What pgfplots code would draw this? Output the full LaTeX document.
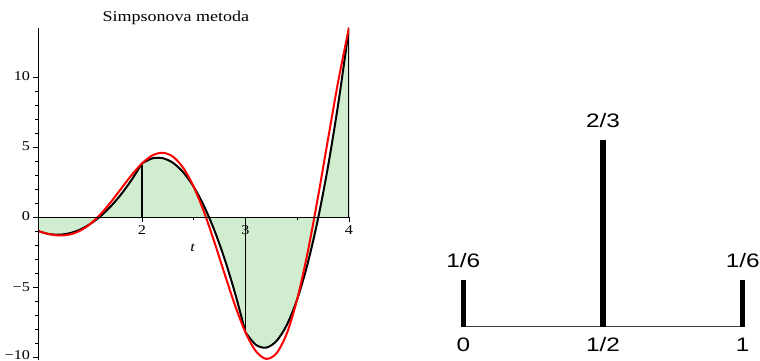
\documentclass[border=0pt]{standalone}
\usepackage{fontspec}
\setmainfont{Liberation Serif}[FakeStretch=1.2]
\newfontfamily\labfont{Liberation Sans}[FakeStretch=1.25]
\usepackage{pgfplots}
\usepackage{pgfplotstable}
\pgfplotsset{compat=1.18}

\definecolor{simpfill}{RGB}{208,237,208}
\definecolor{basegray}{RGB}{60,60,60}

% f(t) = t^2 cos(3t), tabulated
\pgfplotstableread{
t y
1.0 -0.9900
1.1 -1.1949
1.2 -1.2913
1.3 -1.2268
1.4 -0.9609
1.5 -0.4743
1.6 0.2240
1.7 1.0924
1.8 2.0564
1.9 3.0133
2.0 3.8407
2.1 4.4094
2.2 4.5992
2.3 4.3152
2.4 3.5042
2.5 2.1665
2.6 0.3648
2.7 -1.7754
2.8 -4.0712
2.9 -6.2960
3.0 -8.2002
3.1 -9.5352
3.2 -10.0832
3.3 -9.6833
3.4 -8.2570
3.5 -5.8254
3.6 -2.5185
3.7 1.4269
3.8 5.6820
3.9 9.8498
4.0 13.5018
}\ftab

% Simpson parabolas on [1,2], [2,3], [3,4]
\pgfplotstableread{
t y
1.0 -0.9900
1.1 -1.1908
1.2 -1.2396
1.3 -1.1365
1.4 -0.8814
1.5 -0.4743
1.6 0.0848
1.7 0.7958
1.8 1.6588
1.9 2.6738
2.0 3.8407
}\parA
\pgfplotstableread{
t y
2.0 3.8407
2.1 4.2013
2.2 4.2141
2.3 3.8793
2.4 3.1967
2.5 2.1665
2.6 0.7886
2.7 -0.9371
2.8 -3.0104
2.9 -5.4315
3.0 -8.2002
}\parB
\pgfplotstableread{
t y
3.0 -8.2002
3.1 -9.0814
3.2 -9.2846
3.3 -8.8096
3.4 -7.6566
3.5 -5.8254
3.6 -3.3162
3.7 -0.1288
3.8 3.7367
3.9 8.2802
4.0 13.5018
}\parC

\begin{document}
\begin{tikzpicture}[x=1pt,y=1pt]
\path[use as bounding box] (0,0) rectangle (760,361);

\node[anchor=base, font=\fontsize{15}{18}\selectfont] at (175.8,339) {Simpsonova metoda};

\begin{axis}[
  at={(38.5pt,0.5pt)}, anchor=south west,
  scale only axis, width=310.5pt, height=332.7pt,
  xmin=1, xmax=4, ymin=-10.2, ymax=13.5,
  axis x line=middle, axis y line=left,
  axis line style={-, line width=0.8pt, black},
  xtick={2,3,4}, xticklabels={2,3,4},
  ytick={-10,-5,0,5,10}, yticklabels={\raisebox{4pt}{−10},−5,0,5,10},
  minor x tick num=1, minor y tick num=4,
  tick align=outside, major tick length=5pt, minor tick length=3pt,
  tick style={black, line width=0.6pt},
  ticklabel style={font=\fontsize{13.5}{14}\selectfont},
  yticklabel style={yshift=0.8pt},
  /pgf/number format/assume math mode=true,
  axis on top,
]
\addplot[fill=simpfill, draw=none, smooth] table {\parA} \closedcycle;
\addplot[fill=simpfill, draw=none, smooth] table {\parB} \closedcycle;
\addplot[fill=simpfill, draw=none, smooth] table {\parC} \closedcycle;
\addplot[ycomb, black, line width=1.6pt] coordinates {(1,-0.9900) (2,3.8407) (3,-8.2002) (4,13.5018)};
\addplot[black, line width=2pt, smooth] table {\parA};
\addplot[black, line width=2pt, smooth] table {\parB};
\addplot[black, line width=2pt, smooth] table {\parC};
\addplot[red, line width=2pt, smooth] table {\ftab};
\node[anchor=base, font=\itshape\fontsize{13.5}{14}\selectfont] at (axis cs:2.49,-2.4) {t};
\end{axis}

\begin{axis}[
  at={(463.3pt,34.3pt)}, anchor=south west,
  scale only axis, width=279.4pt, height=187.07pt,
  xmin=0, xmax=1, ymin=0, ymax=0.66667,
  hide axis, clip=false,
]
\addplot[basegray, line width=1.3pt] coordinates {(0,0) (1,0)};
\addplot[ycomb, black, line width=5.5pt] coordinates {(0,0.16667) (0.5,0.66667) (1,0.16667)};
\begin{scope}[every node/.style={anchor=base, font=\labfont\fontsize{19.5}{20}\selectfont}]
\node[yshift=12.5pt] at (axis cs:0,0.16667) {1/6};
\node[yshift=12pt] at (axis cs:0.5,0.66667) {2/3};
\node[yshift=12.5pt] at (axis cs:1,0.16667) {1/6};
\node[yshift=-25pt] at (axis cs:0,0) {0};
\node[yshift=-25pt] at (axis cs:0.5,0) {1/2};
\node[yshift=-25pt] at (axis cs:1,0) {1};
\end{scope}
\end{axis}
\end{tikzpicture}
\end{document}
